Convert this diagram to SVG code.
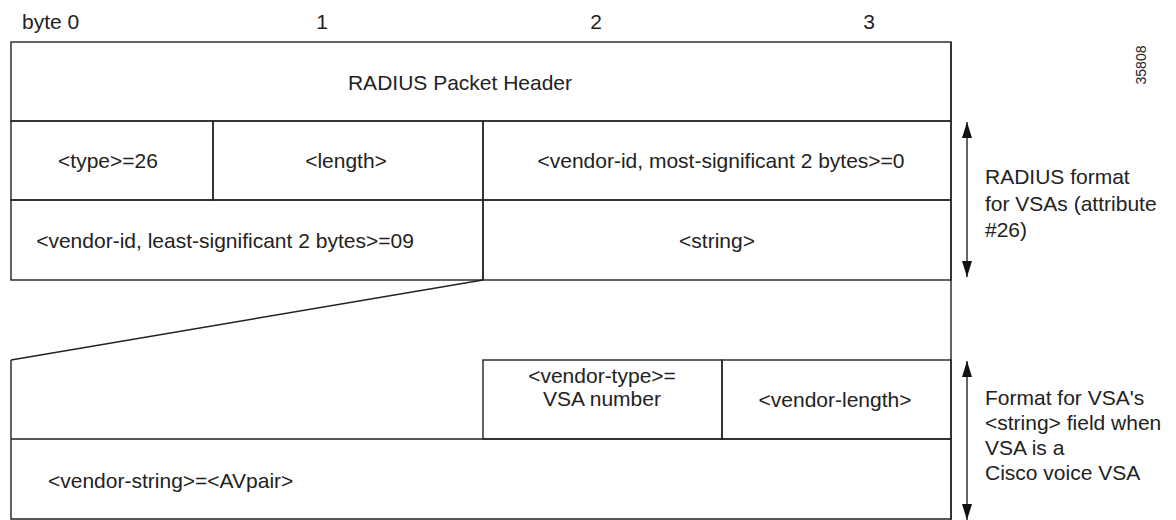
<svg xmlns="http://www.w3.org/2000/svg" width="1176" height="520" viewBox="0 0 1176 520">
<style>
text{font-family:"Liberation Sans",Arial,sans-serif;font-size:21px;fill:#222}
.c{text-anchor:middle}
.ln{stroke:#222;stroke-width:1.4;fill:none}
.ar{stroke:#111;stroke-width:1.3;fill:none}
</style>
<defs>
<marker id="ah" viewBox="0 0 16 12" refX="16" refY="6" markerWidth="16" markerHeight="12" markerUnits="userSpaceOnUse" orient="auto">
<path d="M0,1 L16,6 L0,11 Z" fill="#111"/>
</marker>
</defs>
<rect width="1176" height="520" fill="#fff"/>
<g id="labels">
<text x="22" y="29">byte 0</text>
<text x="322" y="29" class="c">1</text>
<text x="596" y="29" class="c">2</text>
<text x="869" y="29" class="c">3</text>
<text x="1146" y="65" class="c" style="font-size:14px" transform="rotate(-90 1146 65)">35808</text>
</g>
<g id="header">
<rect x="11" y="42" width="940" height="79" class="ln"/>
<text x="460" y="90" class="c">RADIUS Packet Header</text>
</g>
<g id="type">
<rect x="11" y="121" width="202" height="79" class="ln"/>
<text x="108" y="168" class="c">&lt;type&gt;=26</text>
</g>
<g id="length">
<rect x="213" y="121" width="270" height="79" class="ln"/>
<text x="346" y="168" class="c">&lt;length&gt;</text>
</g>
<g id="vendor-id-ms">
<rect x="483" y="121" width="468" height="79" class="ln"/>
<text x="721" y="168" class="c">&lt;vendor-id, most-significant 2 bytes&gt;=0</text>
</g>
<g id="vendor-id-ls">
<rect x="11" y="200" width="472" height="80" class="ln"/>
<text x="225" y="248" class="c">&lt;vendor-id, least-significant 2 bytes&gt;=09</text>
</g>
<g id="string">
<rect x="483" y="200" width="468" height="80" class="ln"/>
<text x="717" y="248" class="c">&lt;string&gt;</text>
</g>
<g id="vendor-type">
<rect x="483" y="360" width="239" height="79" class="ln"/>
<text x="602" y="383" class="c">&lt;vendor-type&gt;=</text>
<text x="602" y="406" class="c">VSA number</text>
</g>
<g id="vendor-length">
<rect x="722" y="360" width="229" height="79" class="ln"/>
<text x="835" y="407" class="c">&lt;vendor-length&gt;</text>
</g>
<g id="vendor-string">
<path d="M11,360 V519 H951 V439 H11" class="ln"/>
<text x="48" y="488">&lt;vendor-string&gt;=&lt;AVpair&gt;</text>
</g>
<g id="connectors">
<path d="M951,42 V520" class="ln"/>
<path d="M483,280 L11,360" class="ln"/>
<path d="M967,200 V122" class="ar" marker-end="url(#ah)"/>
<path d="M967,200 V277" class="ar" marker-end="url(#ah)"/>
<path d="M967,440 V361" class="ar" marker-end="url(#ah)"/>
<path d="M967,440 V520" class="ar" marker-end="url(#ah)"/>
</g>
<g id="notes">
<text x="985" y="184">RADIUS format</text>
<text x="985" y="211">for VSAs (attribute</text>
<text x="985" y="237">#26)</text>
<text x="985" y="405">Format for VSA's</text>
<text x="985" y="430">&lt;string&gt; field when</text>
<text x="985" y="455">VSA is a</text>
<text x="985" y="480">Cisco voice VSA</text>
</g>
</svg>
